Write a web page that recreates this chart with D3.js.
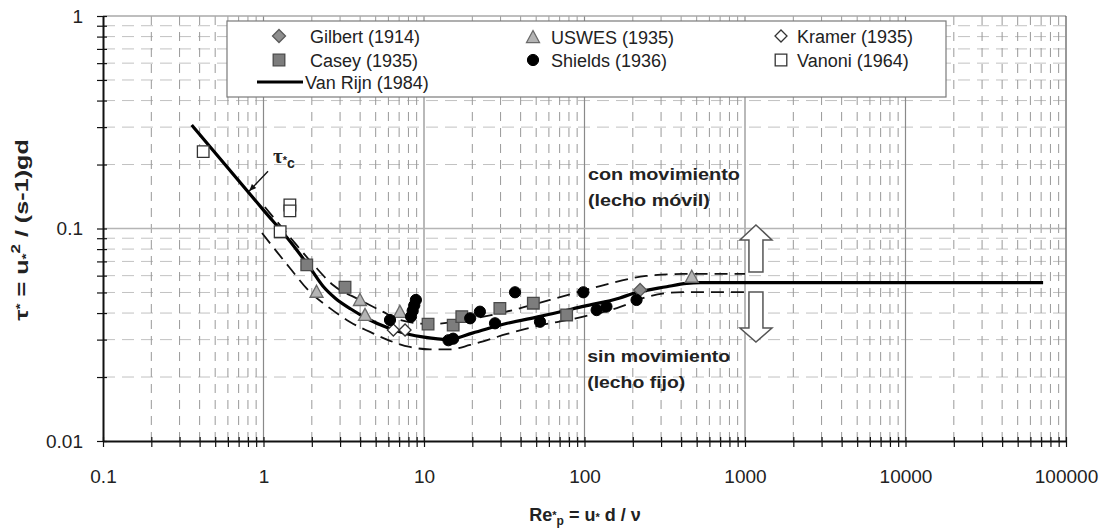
<!DOCTYPE html>
<html><head><meta charset="utf-8">
<script src="https://cdn.jsdelivr.net/npm/d3@7"></script>
<style>body{margin:0;background:#fff}svg{display:block}</style>
</head><body><svg id="c" width="1107" height="531"></svg>
<script>
// ---------- data ----------
const xTickValues = [0.1, 1, 10, 100, 1000, 10000, 100000];
const xTickLabels = ["0.1", "1", "10", "100", "1000", "10000", "100000"];
const yTickValues = [0.01, 0.1, 1];
const yTickLabels = ["0.01", "0.1", "1"];

const vanRijnRe  = [0.357, 1, 1.5, 2, 2.35, 2.8, 3.5, 4.5, 6, 8, 10, 14, 20, 33, 53, 100, 166, 200, 325, 433, 525, 72000];
const vanRijnTau = [0.307, 0.122, 0.085, 0.0635, 0.0535, 0.047, 0.0418, 0.0374, 0.034, 0.0318, 0.0308, 0.0300, 0.0322, 0.0358, 0.0386, 0.0431, 0.0471, 0.0494, 0.0532, 0.0552, 0.0556, 0.0556];

const upperRe  = [1.02, 1.46, 2.03, 2.71, 3.99, 5.56, 7.08, 10.9, 19.4, 35.8, 61, 125, 242, 411, 1000];
const upperTau = [0.1262, 0.0912, 0.0681, 0.0542, 0.0461, 0.0405, 0.0371, 0.0355, 0.0375, 0.0413, 0.0461, 0.0536, 0.0598, 0.0611, 0.0611];

const lowerRe  = [0.979, 1.46, 1.95, 2.59, 3.46, 4.61, 6.14, 8.18, 10.9, 14.5, 19.4, 32.9, 47.7, 89.7, 159, 256, 411, 1000];
const lowerTau = [0.0952, 0.0652, 0.0502, 0.0422, 0.0363, 0.0326, 0.0296, 0.0277, 0.0270, 0.0270, 0.0283, 0.0319, 0.0344, 0.0379, 0.0422, 0.0481, 0.0502, 0.0502];

const gilbertRe  = [222];
const gilbertTau = [0.0514];
const uswesRe  = [2.14, 3.99, 4.29, 7.08, 466];
const uswesTau = [0.0504, 0.0461, 0.0392, 0.0405, 0.0593];
const kramerRe  = [6.44, 7.62];
const kramerTau = [0.0333, 0.0333];
const caseyRe  = [1.86, 3.22, 10.6, 15.2, 17.2, 29.7, 48, 77.4];
const caseyTau = [0.0674, 0.0529, 0.0355, 0.0351, 0.0385, 0.0421, 0.0445, 0.0392];
const shieldsRe  = [6.14, 8.9, 8.7, 8.5, 8.3, 14.2, 15.2, 19.4, 22.3, 27.7, 36.9, 52.8, 98.4, 119, 137, 211];
const shieldsTau = [0.0371, 0.0461, 0.0435, 0.041, 0.0385, 0.0298, 0.0303, 0.0378, 0.0406, 0.0358, 0.0501, 0.0364, 0.0501, 0.0413, 0.0429, 0.0461];
const vanoniRe  = [0.421, 1.46, 1.46, 1.27];
const vanoniTau = [0.230, 0.129, 0.121, 0.0966];

const legendNames = ["Gilbert (1914)", "USWES (1935)", "Kramer (1935)", "Casey (1935)", "Shields (1936)", "Vanoni (1964)", "Van Rijn (1984)"];

// annotation anchors (data coordinates)
const arrowRe = 1170;
const upArrowTau = [0.0624, 0.1039];   // bottom, tip
const downArrowTau = [0.0502, 0.0292]; // top, tip
const regionLabels = [
  {text: "con movimiento", re: 105, tau: 0.169, len: 152},
  {text: "(lecho móvil)", re: 105, tau: 0.127, len: 122},
  {text: "sin movimiento", re: 104, tau: 0.0235, len: 143},
  {text: "(lecho fijo)", re: 104, tau: 0.0178, len: 98}
];
const tauLabel = {re: 1.146, tau: 0.203};
const leader = {re: [1.067, 0.815], tau: [0.186, 0.150]};

// ---------- chart ----------
const FONT = "'Liberation Sans', Arial, Helvetica, sans-serif";
const m = {l: 103, r: 1066, t: 16, b: 441};
const x = d3.scaleLog().domain([0.1, 1e5]).range([m.l, m.r]);
const y = d3.scaleLog().domain([0.01, 1]).range([m.b, m.t]);
const svg = d3.select("#c");
svg.append("rect").attr("width", 1107).attr("height", 531).attr("fill", "#fff");

const minorX = [];
for (let e = -1; e < 5; e++) for (let k = 2; k <= 9; k++) minorX.push(k * Math.pow(10, e));
const minorY = [];
for (let e = -2; e < 0; e++) for (let k = 2; k <= 9; k++) minorY.push(k * Math.pow(10, e));

const grid = svg.append("g");
grid.selectAll(".hy").data(minorY).join("line")
  .attr("x1", m.l).attr("x2", m.r).attr("y1", d => y(d)).attr("y2", d => y(d))
  .attr("stroke", "#c2c2c2").attr("stroke-width", 1).attr("stroke-dasharray", "12,7");
grid.selectAll(".vx").data(minorX).join("line")
  .attr("y1", m.t).attr("y2", m.b).attr("x1", d => x(d)).attr("x2", d => x(d))
  .attr("stroke", "#999").attr("stroke-width", 1).attr("stroke-dasharray", "9,7");
grid.selectAll(".mx").data(xTickValues.slice(1, 6)).join("line")
  .attr("y1", m.t).attr("y2", m.b).attr("x1", d => x(d)).attr("x2", d => x(d))
  .attr("stroke", "#8a8a8a").attr("stroke-width", 1.2);
grid.append("line").attr("x1", m.l).attr("x2", m.r).attr("y1", y(0.1)).attr("y2", y(0.1))
  .attr("stroke", "#b5b5b5").attr("stroke-width", 1.5);
grid.append("line").attr("x1", m.l).attr("x2", m.r).attr("y1", y(1)).attr("y2", y(1))
  .attr("stroke", "#a8a8a8").attr("stroke-width", 1.5);
grid.append("line").attr("x1", x(1e5)).attr("x2", x(1e5)).attr("y1", m.t).attr("y2", m.b)
  .attr("stroke", "#555").attr("stroke-width", 1.2);

// axes
const allX = xTickValues.concat(minorX);
const xAxis = d3.axisBottom(x).tickValues(allX).tickSize(6).tickSizeOuter(0).tickPadding(23)
  .tickFormat(d => { const i = xTickValues.findIndex(v => Math.abs(v - d) / v < 1e-9); return i >= 0 ? xTickLabels[i] : ""; });
const gx = svg.append("g").attr("transform", `translate(0,${m.b})`).call(xAxis);
gx.selectAll(".tick line").attr("y1", -4).attr("stroke", "#111").attr("stroke-width", 1.2);
gx.select(".domain").attr("stroke", "#111").attr("stroke-width", 2);
gx.selectAll("text").style("font", `19px ${FONT}`).attr("fill", "#222");

const allY = yTickValues.concat(minorY);
const yAxis = d3.axisLeft(y).tickValues(allY).tickSize(6).tickSizeOuter(0).tickPadding(14)
  .tickFormat(d => { const i = yTickValues.findIndex(v => Math.abs(v - d) / v < 1e-9); return i >= 0 ? yTickLabels[i] : ""; });
const gy = svg.append("g").attr("transform", `translate(${m.l},0)`).call(yAxis);
gy.selectAll(".tick line").attr("x1", 4).attr("stroke", "#111").attr("stroke-width", 1.2);
gy.select(".domain").attr("stroke", "#111").attr("stroke-width", 2);
gy.selectAll("text").style("font", `19px ${FONT}`).attr("fill", "#222");

// curves
const line = d3.line().x(d => x(d[0])).y(d => y(d[1])).curve(d3.curveMonotoneX);
const zip = (a, b) => a.map((v, i) => [v, b[i]]);
svg.append("path").attr("d", line(zip(upperRe, upperTau))).attr("fill", "none")
  .attr("stroke", "#111").attr("stroke-width", 1.8).attr("stroke-dasharray", "13,7");
svg.append("path").attr("d", line(zip(lowerRe, lowerTau))).attr("fill", "none")
  .attr("stroke", "#111").attr("stroke-width", 1.8).attr("stroke-dasharray", "13,7");
svg.append("path").attr("d", line(zip(vanRijnRe, vanRijnTau))).attr("fill", "none")
  .attr("stroke", "#000").attr("stroke-width", 3.2);

// marker shapes
const shapes = {
  diamond: s => `M0,${-s}L${s},0L0,${s}L${-s},0Z`,
  square: s => `M${-s},${-s}H${s}V${s}H${-s}Z`,
  triangle: s => `M0,${-s}L${s},${s * 0.85}L${-s},${s * 0.85}Z`
};
function drawPts(re, tau, type, size, fill, stroke) {
  const g = svg.append("g");
  const data = zip(re, tau);
  if (type === "circle") {
    g.selectAll("circle").data(data).join("circle")
      .attr("cx", d => x(d[0])).attr("cy", d => y(d[1])).attr("r", size)
      .attr("fill", fill).attr("stroke", stroke).attr("stroke-width", 1);
  } else {
    g.selectAll("path").data(data).join("path")
      .attr("transform", d => `translate(${x(d[0])},${y(d[1])})`)
      .attr("d", shapes[type](size)).attr("fill", fill).attr("stroke", stroke).attr("stroke-width", 1.3);
  }
}
const styles = {
  gilbert: ["diamond", 6.5, "#8e8e8e", "#5a5a5a"],
  uswes: ["triangle", 6.5, "#b4b4b4", "#6a6a6a"],
  kramer: ["diamond", 6, "#ffffff", "#333"],
  casey: ["square", 5.8, "#7d7d7d", "#4a4a4a"],
  shields: ["circle", 5.6, "#000", "#000"],
  vanoni: ["square", 5.8, "#ffffff", "#333"]
};
drawPts(vanoniRe, vanoniTau, ...styles.vanoni);
drawPts(kramerRe, kramerTau, ...styles.kramer);
drawPts(uswesRe, uswesTau, ...styles.uswes);
drawPts(caseyRe, caseyTau, ...styles.casey);
drawPts(gilbertRe, gilbertTau, ...styles.gilbert);
drawPts(shieldsRe, shieldsTau, ...styles.shields);

// arrows
const ax = x(arrowRe);
const ub = y(upArrowTau[0]), ut = y(upArrowTau[1]);
svg.append("path").attr("d", `M${ax - 7},${ub}V${ut + 15}H${ax - 16}L${ax},${ut}L${ax + 16},${ut + 15}H${ax + 7}V${ub}Z`)
  .attr("fill", "#fff").attr("stroke", "#555").attr("stroke-width", 1.5);
const dtp = y(downArrowTau[0]), dtip = y(downArrowTau[1]);
svg.append("path").attr("d", `M${ax - 7},${dtp}V${dtip - 14}H${ax - 16}L${ax},${dtip}L${ax + 16},${dtip - 14}H${ax + 7}V${dtp}Z`)
  .attr("fill", "#fff").attr("stroke", "#555").attr("stroke-width", 1.5);

// region labels
svg.append("g").selectAll("text").data(regionLabels).join("text")
  .attr("x", d => x(d.re)).attr("y", d => y(d.tau))
  .attr("textLength", d => d.len).attr("lengthAdjust", "spacingAndGlyphs")
  .style("font", `bold 17px ${FONT}`).attr("fill", "#222").text(d => d.text);

// tau*c label and leader
const tl = svg.append("text").attr("x", x(tauLabel.re)).attr("y", y(tauLabel.tau)).attr("fill", "#222");
tl.append("tspan").style("font", "bold 21px 'Liberation Serif', 'DejaVu Serif', serif").text("τ");
tl.append("tspan").style("font", `bold 11px ${FONT}`).attr("dy", 1).text("*");
tl.append("tspan").style("font", `bold 14px ${FONT}`).attr("dy", 4).text("c");
const lx1 = x(leader.re[0]), ly1 = y(leader.tau[0]), lx2 = x(leader.re[1]), ly2 = y(leader.tau[1]);
svg.append("line").attr("x1", lx1).attr("y1", ly1).attr("x2", lx2).attr("y2", ly2)
  .attr("stroke", "#111").attr("stroke-width", 1.4);
{
  const ang = Math.atan2(ly2 - ly1, lx2 - lx1), L = 7, W = 3;
  const bx = lx2 - L * Math.cos(ang), by = ly2 - L * Math.sin(ang);
  svg.append("path").attr("d", `M${lx2},${ly2}L${bx + W * Math.sin(ang)},${by - W * Math.cos(ang)}L${bx - W * Math.sin(ang)},${by + W * Math.cos(ang)}Z`)
    .attr("fill", "#111");
}

// legend
const lg = svg.append("g");
lg.append("rect").attr("x", 227).attr("y", 21).attr("width", 719).attr("height", 76)
  .attr("fill", "#fff").attr("stroke", "#7a7a7a").attr("stroke-width", 1.2);
const legendItems = [
  {name: legendNames[0], st: styles.gilbert, mx: 279, tx: 310, cy: 36},
  {name: legendNames[1], st: styles.uswes, mx: 533, tx: 551, cy: 37},
  {name: legendNames[2], st: styles.kramer, mx: 781, tx: 797, cy: 36},
  {name: legendNames[3], st: styles.casey, mx: 279, tx: 310, cy: 60},
  {name: legendNames[4], st: styles.shields, mx: 533, tx: 551, cy: 60},
  {name: legendNames[5], st: styles.vanoni, mx: 781, tx: 797, cy: 60}
];
legendItems.forEach(it => {
  const [type, size, fill, stroke] = it.st;
  if (type === "circle") {
    lg.append("circle").attr("cx", it.mx).attr("cy", it.cy).attr("r", size).attr("fill", fill).attr("stroke", stroke);
  } else {
    lg.append("path").attr("transform", `translate(${it.mx},${it.cy})`).attr("d", shapes[type](size))
      .attr("fill", fill).attr("stroke", stroke).attr("stroke-width", 1.3);
  }
  lg.append("text").attr("x", it.tx).attr("y", it.cy + 6.5).style("font", `18px ${FONT}`).attr("fill", "#222").text(it.name);
});
lg.append("line").attr("x1", 257).attr("x2", 303).attr("y1", 82).attr("y2", 82).attr("stroke", "#000").attr("stroke-width", 3.2);
lg.append("text").attr("x", 305).attr("y", 88.5).style("font", `18px ${FONT}`).attr("fill", "#222").text(legendNames[6]);

// axis titles
const xt = svg.append("text").attr("x", 585).attr("y", 521).attr("text-anchor", "middle")
  .style("font", `bold 18px ${FONT}`).attr("fill", "#222");
xt.append("tspan").text("Re");
xt.append("tspan").attr("font-size", "11px").attr("dy", -2).text("*");
xt.append("tspan").attr("font-size", "12px").attr("dy", 6).text("p");
xt.append("tspan").attr("dy", -4).text(" = u");
xt.append("tspan").attr("font-size", "11px").text("*");
xt.append("tspan").text(" d / ν");

const yt = svg.append("text").attr("transform", "translate(28,230) rotate(-90) scale(1.4,1)")
  .attr("text-anchor", "middle").style("font", `bold 18px ${FONT}`).attr("fill", "#222");
yt.append("tspan").text("τ");
yt.append("tspan").attr("font-size", "11px").attr("dy", -4).text("*");
yt.append("tspan").attr("dy", 4).text(" = u");
yt.append("tspan").attr("font-size", "11px").attr("dy", 2).text("*");
yt.append("tspan").attr("font-size", "12px").attr("dy", -10).text("2");
yt.append("tspan").attr("dy", 8).text(" / (s-1)gd");
</script>
</body></html>
